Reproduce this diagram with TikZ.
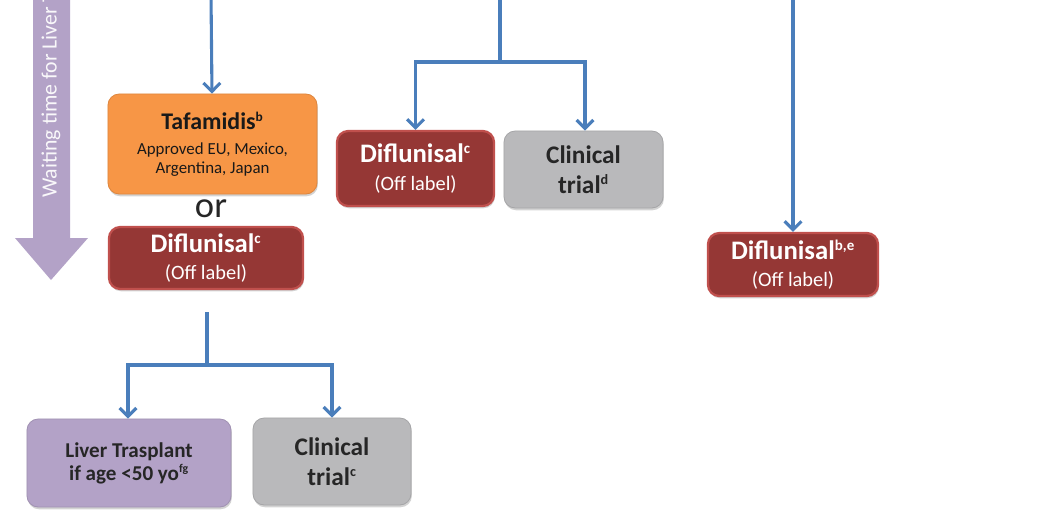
\documentclass[tikz,border=0pt]{standalone}
\usepackage{fontspec}
\setmainfont{Carlito}
\usetikzlibrary{arrows.meta,shadows}

\definecolor{flowblue}{HTML}{4A7EBB}
\definecolor{tafaorange}{HTML}{F79646}
\definecolor{difred}{HTML}{953735}
\definecolor{difborder}{HTML}{C0504D}
\definecolor{trialgray}{HTML}{B9B9BB}
\definecolor{waitpurple}{HTML}{B3A2C7}

\newcommand{\supx}[1]{\textsuperscript{\scalebox{0.8}{#1}}}

\begin{document}
\begin{tikzpicture}[x=0.025cm,y=-0.025cm,
  box/.style={rectangle, rounded corners=8pt, align=center, inner sep=2pt,
    drop shadow={opacity=0.35, shadow xshift=0.6pt, shadow yshift=-1.6pt}},
  redbox/.style={box, fill=difred, draw=difborder, line width=1.6pt, text=white,
    font=\fontsize{14.5}{19.5}\selectfont},
  graybox/.style={box, fill=trialgray, draw=trialgray!90!black, line width=0.6pt, text=black!85,
    font=\fontsize{18}{21}\selectfont\bfseries},
  flow/.style={draw=flowblue, line width=2.2pt, -{Straight Barb[length=6pt,width=12pt,line width=2.2pt]}},
  stem/.style={draw=flowblue, line width=2.2pt}]
\useasboundingbox (0,0) rectangle (1044,528);
\clip (0,0) rectangle (1044,528);
% Waiting time arrow
\fill[waitpurple] (33,-5) -- (70,-5) -- (70,238) -- (88,238) -- (51,280) -- (15,238) -- (33,238) -- cycle;
\node[rotate=90, anchor=west, inner sep=0pt, text=white!92!waitpurple, font=\fontsize{15.5}{17}\selectfont] (wait) at (51,198) {Waiting time for Liver T};
% Left column
\node[box, fill=tafaorange, draw=tafaorange!90!black, line width=0.6pt, text=black!90, font=\fontsize{12}{13.5}\selectfont, minimum width=5.225cm, minimum height=2.5cm] (taf) at (212.5,144)
  {{\fontsize{17}{20}\selectfont\bfseries Tafamidis\supx{b}}\\[4pt]Approved EU, Mexico,\\Argentina, Japan};
\node[font=\fontsize{26}{28}\selectfont, text=black!85, inner sep=0pt] (or) at (211,209) {or};
\node[redbox, minimum width=4.85cm, minimum height=1.55cm] (difL) at (206,258)
  {{\fontsize{19}{19}\selectfont\bfseries Diflunisal\supx{c}}\\(Off label)};
% Middle column
\node[redbox, minimum width=3.925cm, minimum height=1.875cm] (difM) at (415.5,168.5)
  {{\fontsize{19}{19}\selectfont\bfseries Diflunisal\supx{c}}\\(Off label)};
\node[graybox, minimum width=3.975cm, minimum height=1.925cm] (clinM) at (583.5,169.5)
  {Clinical\\trial\supx{d}};
% Right column
\node[redbox, minimum width=4.25cm, minimum height=1.575cm] (difR) at (793,264.5)
  {{\fontsize{19}{19}\selectfont\bfseries Diflunisal\supx{b,e}}\\(Off label)};
% Bottom row
\node[box, fill=waitpurple, draw=waitpurple!90!black, line width=0.6pt, text=black!85, font=\fontsize{15}{16.5}\selectfont\bfseries, minimum width=5.1cm, minimum height=2.2cm] (liver) at (129,463)
  {Liver Trasplant\\if age <50 yo\supx{fg}};
\node[graybox, minimum width=3.95cm, minimum height=2.175cm] (clinB) at (332,461.5)
  {Clinical\\trial\supx{c}};
% Connectors
\coordinate (inL) at (211,-5);
\coordinate (inM) at (500,-5);
\coordinate (inR) at (793,-5);
\coordinate (splitM) at (500,62);
\coordinate (outL) at (207,312);
\coordinate (splitB) at (207,365);
\draw[flow] (inL) -- (taf);
\draw[stem] (inM) -- (splitM);
\draw[flow] (splitM) -| (difM);
\draw[flow] (splitM) -| ([xshift=1.5*0.025cm]clinM.north);
\draw[flow] (inR) -- (difR);
\draw[stem] (outL) -- (splitB);
\draw[flow] (splitB) -| ([xshift=-1*0.025cm]liver.north);
\draw[flow] (splitB) -| (clinB);
\end{tikzpicture}
\end{document}
